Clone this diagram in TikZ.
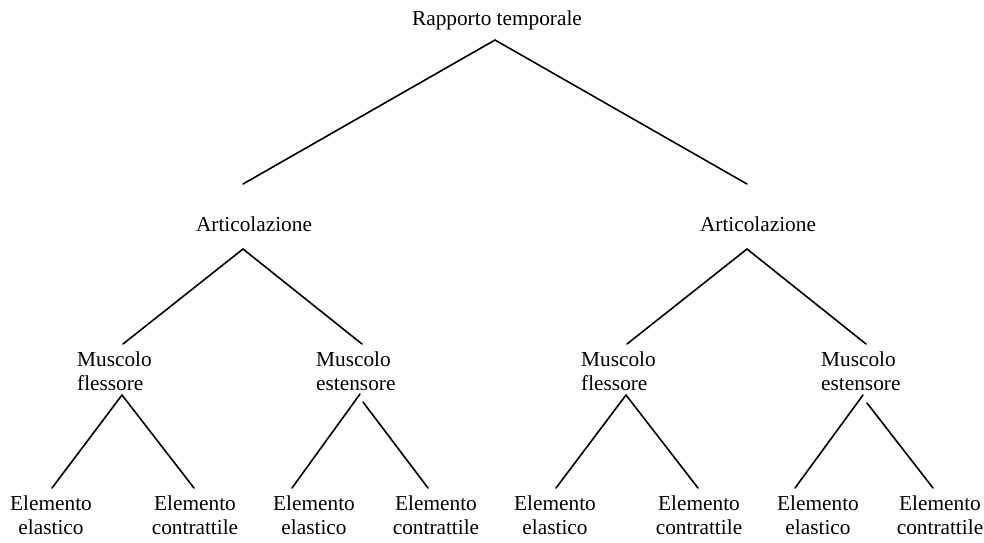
\documentclass[tikz,border=0pt]{standalone}
\usepackage{fontspec}
\setmainfont{Liberation Serif}
\begin{document}
\begin{tikzpicture}[x=1pt,y=-1pt,
  lbl/.style={inner sep=0pt,anchor=base,font=\fontsize{21.3}{24}\selectfont},
  lblL/.style={lbl,anchor=base west,align=left},
  lblC/.style={lbl,align=center},
  branch/.style={line width=1.6pt,line cap=round,line join=miter}]
\useasboundingbox (0,0) rectangle (984,542);

% labels (two-line labels are placed by the baseline of their last line)
\node[lbl] (root) at (497,25) {Rapporto temporale};
\node[lbl] (artL) at (254,231) {Articolazione};
\node[lbl] (artR) at (758,231) {Articolazione};
\node[lblL] (mfL) at (77,390) {Muscolo\\flessore};
\node[lblL] (meL) at (316,390) {Muscolo\\estensore};
\node[lblL] (mfR) at (581,390) {Muscolo\\flessore};
\node[lblL] (meR) at (821,390) {Muscolo\\estensore};
\node[lblC] (e1) at (51,534) {Elemento\\elastico};
\node[lblC] (c1) at (195,534) {Elemento\\contrattile};
\node[lblC] (e2) at (314,534) {Elemento\\elastico};
\node[lblC] (c2) at (436,534) {Elemento\\contrattile};
\node[lblC] (e3) at (555,534) {Elemento\\elastico};
\node[lblC] (c3) at (699,534) {Elemento\\contrattile};
\node[lblC] (e4) at (818,534) {Elemento\\elastico};
\node[lblC] (c4) at (940,534) {Elemento\\contrattile};

% branch end points
\coordinate (rootB) at (495,40);
\coordinate (artLT) at (243,184);
\coordinate (artRT) at (747,184);
\coordinate (artLB) at (243,249);
\coordinate (artRB) at (747,249);
\coordinate (mfLT) at (123,344);
\coordinate (meLT) at (362,344);
\coordinate (mfRT) at (627,344);
\coordinate (meRT) at (866,344);
\coordinate (mfLB) at (122,395);
\coordinate (mfRB) at (626,395);
\coordinate (meLBa) at (360,394);
\coordinate (meLBb) at (363,402);
\coordinate (meRBa) at (863,395);
\coordinate (meRBb) at (867,403);
\coordinate (e1T) at (52,488);
\coordinate (c1T) at (194,488);
\coordinate (e2T) at (292,488);
\coordinate (c2T) at (428,488);
\coordinate (e3T) at (556,488);
\coordinate (c3T) at (698,488);
\coordinate (e4T) at (795,488);
\coordinate (c4T) at (933,488);

% branches
\draw[branch] (artLT) -- (rootB) -- (artRT);
\draw[branch] (mfLT) -- (artLB) -- (meLT);
\draw[branch] (mfRT) -- (artRB) -- (meRT);
\draw[branch] (e1T) -- (mfLB) -- (c1T);
\draw[branch] (e3T) -- (mfRB) -- (c3T);
\draw[branch] (meLBa) -- (e2T);
\draw[branch] (meLBb) -- (c2T);
\draw[branch] (meRBa) -- (e4T);
\draw[branch] (meRBb) -- (c4T);
\end{tikzpicture}
\end{document}
